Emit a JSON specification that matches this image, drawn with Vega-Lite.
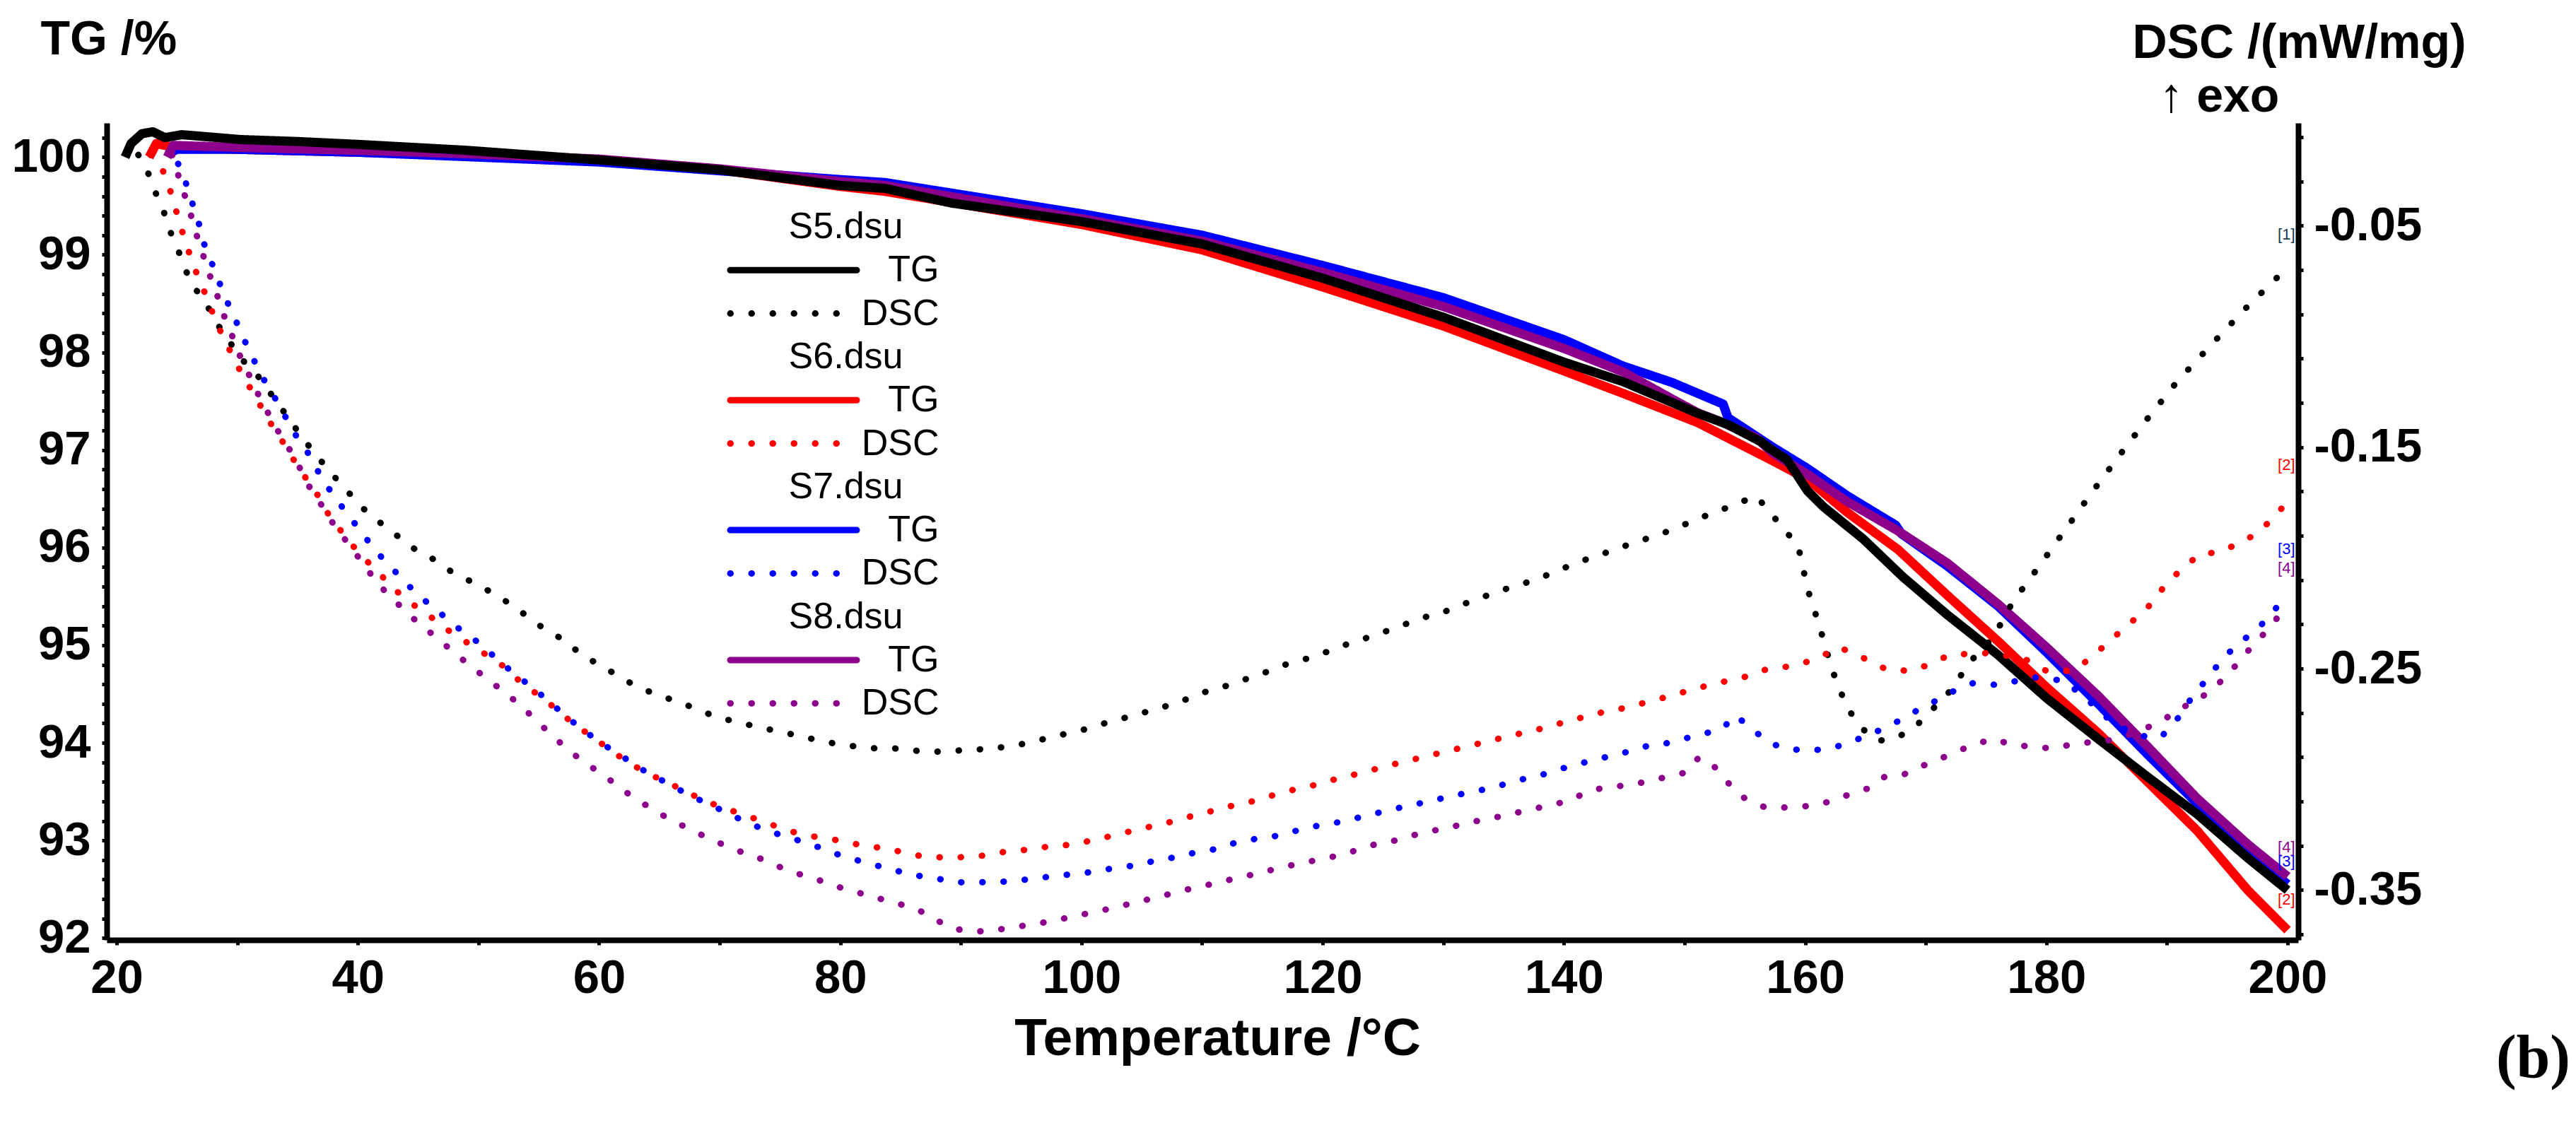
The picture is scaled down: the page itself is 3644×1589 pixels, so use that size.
{
"$schema": "https://vega.github.io/schema/vega-lite/v6.json",
"width": 3100, "height": 1156,
"autosize": {"type": "none"},
"padding": {"left": 151, "top": 174, "right": 393, "bottom": 259},
"background": "white",
"title": {"text": "(b)", "orient": "bottom", "anchor": "end", "frame": "group", "font": "Liberation Serif", "fontWeight": "bold", "fontSize": 86, "color": "black", "dx": 385, "offset": 17, "baseline": "alphabetic"},
"datasets": {
"tg": [
{"T":22.7,"TG":100.0,"s":"S6 TG"},{"T":23.3,"TG":100.14,"s":"S6 TG"},{"T":24,"TG":100.12,"s":"S6 TG"},{"T":25,"TG":100.1,"s":"S6 TG"},{"T":30,"TG":100.08,"s":"S6 TG"},{"T":40,"TG":100.05,"s":"S6 TG"},{"T":50,"TG":100.02,"s":"S6 TG"},{"T":60,"TG":99.97,"s":"S6 TG"},{"T":70,"TG":99.87,"s":"S6 TG"},{"T":80,"TG":99.7,"s":"S6 TG"},{"T":83.7,"TG":99.65,"s":"S6 TG"},{"T":100,"TG":99.31,"s":"S6 TG"},{"T":110,"TG":99.05,"s":"S6 TG"},{"T":120,"TG":98.67,"s":"S6 TG"},{"T":130,"TG":98.27,"s":"S6 TG"},{"T":140,"TG":97.81,"s":"S6 TG"},{"T":144.9,"TG":97.58,"s":"S6 TG"},{"T":151.1,"TG":97.28,"s":"S6 TG"},{"T":157.3,"TG":96.89,"s":"S6 TG"},{"T":160.2,"TG":96.7,"s":"S6 TG"},{"T":163.5,"TG":96.36,"s":"S6 TG"},{"T":167.7,"TG":95.98,"s":"S6 TG"},{"T":171.8,"TG":95.51,"s":"S6 TG"},{"T":176,"TG":95.04,"s":"S6 TG"},{"T":180,"TG":94.57,"s":"S6 TG"},{"T":184.3,"TG":94.1,"s":"S6 TG"},{"T":188.4,"TG":93.6,"s":"S6 TG"},{"T":192.5,"TG":93.1,"s":"S6 TG"},{"T":196.7,"TG":92.49,"s":"S6 TG"},{"T":200,"TG":92.08,"s":"S6 TG"},
{"T":24.2,"TG":100.03,"s":"S7 TG"},{"T":25,"TG":100.08,"s":"S7 TG"},{"T":30,"TG":100.08,"s":"S7 TG"},{"T":40,"TG":100.05,"s":"S7 TG"},{"T":50,"TG":100.0,"s":"S7 TG"},{"T":60,"TG":99.95,"s":"S7 TG"},{"T":70,"TG":99.86,"s":"S7 TG"},{"T":80,"TG":99.77,"s":"S7 TG"},{"T":83.7,"TG":99.74,"s":"S7 TG"},{"T":100,"TG":99.42,"s":"S7 TG"},{"T":110,"TG":99.2,"s":"S7 TG"},{"T":120,"TG":98.89,"s":"S7 TG"},{"T":130,"TG":98.56,"s":"S7 TG"},{"T":140,"TG":98.13,"s":"S7 TG"},{"T":144.9,"TG":97.86,"s":"S7 TG"},{"T":149,"TG":97.69,"s":"S7 TG"},{"T":153.2,"TG":97.47,"s":"S7 TG"},{"T":153.6,"TG":97.33,"s":"S7 TG"},{"T":157.3,"TG":97.03,"s":"S7 TG"},{"T":160.2,"TG":96.81,"s":"S7 TG"},{"T":163.5,"TG":96.53,"s":"S7 TG"},{"T":167.5,"TG":96.23,"s":"S7 TG"},{"T":168,"TG":96.14,"s":"S7 TG"},{"T":171.8,"TG":95.81,"s":"S7 TG"},{"T":176,"TG":95.4,"s":"S7 TG"},{"T":180,"TG":94.93,"s":"S7 TG"},{"T":184.3,"TG":94.4,"s":"S7 TG"},{"T":188.4,"TG":93.88,"s":"S7 TG"},{"T":192.5,"TG":93.38,"s":"S7 TG"},{"T":196.7,"TG":92.88,"s":"S7 TG"},{"T":200,"TG":92.55,"s":"S7 TG"},
{"T":24.2,"TG":100.0,"s":"S8 TG"},{"T":24.7,"TG":100.12,"s":"S8 TG"},{"T":30,"TG":100.1,"s":"S8 TG"},{"T":40,"TG":100.07,"s":"S8 TG"},{"T":50,"TG":100.03,"s":"S8 TG"},{"T":60,"TG":99.98,"s":"S8 TG"},{"T":70,"TG":99.88,"s":"S8 TG"},{"T":80,"TG":99.75,"s":"S8 TG"},{"T":83.7,"TG":99.71,"s":"S8 TG"},{"T":100,"TG":99.37,"s":"S8 TG"},{"T":110,"TG":99.14,"s":"S8 TG"},{"T":120,"TG":98.82,"s":"S8 TG"},{"T":130,"TG":98.47,"s":"S8 TG"},{"T":140,"TG":98.04,"s":"S8 TG"},{"T":144.9,"TG":97.8,"s":"S8 TG"},{"T":149,"TG":97.52,"s":"S8 TG"},{"T":151.1,"TG":97.38,"s":"S8 TG"},{"T":153,"TG":97.29,"s":"S8 TG"},{"T":156,"TG":97.12,"s":"S8 TG"},{"T":157.3,"TG":96.97,"s":"S8 TG"},{"T":160.2,"TG":96.75,"s":"S8 TG"},{"T":163.5,"TG":96.47,"s":"S8 TG"},{"T":167.7,"TG":96.17,"s":"S8 TG"},{"T":171.8,"TG":95.84,"s":"S8 TG"},{"T":176,"TG":95.42,"s":"S8 TG"},{"T":180,"TG":94.98,"s":"S8 TG"},{"T":184.3,"TG":94.48,"s":"S8 TG"},{"T":188.4,"TG":93.96,"s":"S8 TG"},{"T":192.5,"TG":93.43,"s":"S8 TG"},{"T":196.7,"TG":92.96,"s":"S8 TG"},{"T":200,"TG":92.63,"s":"S8 TG"},
{"T":20.7,"TG":100.0,"s":"S5 TG"},{"T":21.2,"TG":100.14,"s":"S5 TG"},{"T":22.1,"TG":100.24,"s":"S5 TG"},{"T":23,"TG":100.26,"s":"S5 TG"},{"T":24,"TG":100.2,"s":"S5 TG"},{"T":25.4,"TG":100.23,"s":"S5 TG"},{"T":30.3,"TG":100.18,"s":"S5 TG"},{"T":35,"TG":100.16,"s":"S5 TG"},{"T":40.1,"TG":100.13,"s":"S5 TG"},{"T":49,"TG":100.07,"s":"S5 TG"},{"T":60.1,"TG":99.97,"s":"S5 TG"},{"T":70,"TG":99.87,"s":"S5 TG"},{"T":80,"TG":99.71,"s":"S5 TG"},{"T":83.7,"TG":99.68,"s":"S5 TG"},{"T":89.2,"TG":99.53,"s":"S5 TG"},{"T":100,"TG":99.34,"s":"S5 TG"},{"T":110,"TG":99.11,"s":"S5 TG"},{"T":120,"TG":98.76,"s":"S5 TG"},{"T":130,"TG":98.36,"s":"S5 TG"},{"T":140,"TG":97.9,"s":"S5 TG"},{"T":144.9,"TG":97.7,"s":"S5 TG"},{"T":151,"TG":97.38,"s":"S5 TG"},{"T":153.6,"TG":97.26,"s":"S5 TG"},{"T":156.4,"TG":97.08,"s":"S5 TG"},{"T":157,"TG":97.02,"s":"S5 TG"},{"T":158.5,"TG":96.9,"s":"S5 TG"},{"T":159.3,"TG":96.75,"s":"S5 TG"},{"T":160.2,"TG":96.58,"s":"S5 TG"},{"T":161.5,"TG":96.42,"s":"S5 TG"},{"T":164.8,"TG":96.09,"s":"S5 TG"},{"T":168.1,"TG":95.7,"s":"S5 TG"},{"T":171.8,"TG":95.31,"s":"S5 TG"},{"T":176,"TG":94.9,"s":"S5 TG"},{"T":180,"TG":94.46,"s":"S5 TG"},{"T":184.3,"TG":94.04,"s":"S5 TG"},{"T":188.4,"TG":93.65,"s":"S5 TG"},{"T":192.5,"TG":93.27,"s":"S5 TG"},{"T":196.7,"TG":92.82,"s":"S5 TG"},{"T":200,"TG":92.49,"s":"S5 TG"}
],
"dsc": [
{"T":21.8,"D":-0.018,"s":"S5 DSC"},{"T":22.6,"D":-0.026,"s":"S5 DSC"},{"T":23.3,"D":-0.036,"s":"S5 DSC"},{"T":23.9,"D":-0.0435,"s":"S5 DSC"},{"T":24.4,"D":-0.052,"s":"S5 DSC"},{"T":25.1,"D":-0.061,"s":"S5 DSC"},{"T":25.8,"D":-0.071,"s":"S5 DSC"},{"T":26.6,"D":-0.079,"s":"S5 DSC"},{"T":27.5,"D":-0.086,"s":"S5 DSC"},{"T":28.3,"D":-0.094,"s":"S5 DSC"},{"T":29.3,"D":-0.102,"s":"S5 DSC"},{"T":30.5,"D":-0.111,"s":"S5 DSC"},{"T":31.6,"D":-0.117,"s":"S5 DSC"},{"T":32.8,"D":-0.126,"s":"S5 DSC"},{"T":34,"D":-0.135,"s":"S5 DSC"},{"T":35.3,"D":-0.145,"s":"S5 DSC"},{"T":36.6,"D":-0.154,"s":"S5 DSC"},{"T":38,"D":-0.163,"s":"S5 DSC"},{"T":39,"D":-0.169,"s":"S5 DSC"},{"T":40.3,"D":-0.177,"s":"S5 DSC"},{"T":41.6,"D":-0.183,"s":"S5 DSC"},{"T":42.8,"D":-0.188,"s":"S5 DSC"},{"T":44.4,"D":-0.195,"s":"S5 DSC"},{"T":46.4,"D":-0.201,"s":"S5 DSC"},{"T":47.7,"D":-0.206,"s":"S5 DSC"},{"T":49.5,"D":-0.211,"s":"S5 DSC"},{"T":50.9,"D":-0.215,"s":"S5 DSC"},{"T":52.7,"D":-0.221,"s":"S5 DSC"},{"T":54.2,"D":-0.227,"s":"S5 DSC"},{"T":55.7,"D":-0.233,"s":"S5 DSC"},{"T":57.1,"D":-0.237,"s":"S5 DSC"},{"T":58.6,"D":-0.244,"s":"S5 DSC"},{"T":60.3,"D":-0.249,"s":"S5 DSC"},{"T":61.8,"D":-0.254,"s":"S5 DSC"},{"T":63.1,"D":-0.258,"s":"S5 DSC"},{"T":64.9,"D":-0.262,"s":"S5 DSC"},{"T":66.6,"D":-0.265,"s":"S5 DSC"},{"T":68,"D":-0.268,"s":"S5 DSC"},{"T":69.8,"D":-0.272,"s":"S5 DSC"},{"T":71.4,"D":-0.274,"s":"S5 DSC"},{"T":72.9,"D":-0.276,"s":"S5 DSC"},{"T":74.6,"D":-0.278,"s":"S5 DSC"},{"T":76.3,"D":-0.28,"s":"S5 DSC"},{"T":77.9,"D":-0.282,"s":"S5 DSC"},{"T":79.7,"D":-0.284,"s":"S5 DSC"},{"T":81.1,"D":-0.285,"s":"S5 DSC"},{"T":82.9,"D":-0.286,"s":"S5 DSC"},{"T":84.5,"D":-0.286,"s":"S5 DSC"},{"T":86,"D":-0.287,"s":"S5 DSC"},{"T":88,"D":-0.2875,"s":"S5 DSC"},{"T":89.5,"D":-0.287,"s":"S5 DSC"},{"T":91.1,"D":-0.2867,"s":"S5 DSC"},{"T":94.3,"D":-0.285,"s":"S5 DSC"},{"T":95.9,"D":-0.283,"s":"S5 DSC"},{"T":97.5,"D":-0.281,"s":"S5 DSC"},{"T":99,"D":-0.279,"s":"S5 DSC"},{"T":100.6,"D":-0.277,"s":"S5 DSC"},{"T":102.3,"D":-0.274,"s":"S5 DSC"},{"T":104.1,"D":-0.2715,"s":"S5 DSC"},{"T":105.7,"D":-0.269,"s":"S5 DSC"},{"T":107.6,"D":-0.266,"s":"S5 DSC"},{"T":109.1,"D":-0.263,"s":"S5 DSC"},{"T":110.5,"D":-0.26,"s":"S5 DSC"},{"T":112.2,"D":-0.2575,"s":"S5 DSC"},{"T":114,"D":-0.254,"s":"S5 DSC"},{"T":115.4,"D":-0.2514,"s":"S5 DSC"},{"T":117,"D":-0.248,"s":"S5 DSC"},{"T":118.6,"D":-0.2456,"s":"S5 DSC"},{"T":120.3,"D":-0.2425,"s":"S5 DSC"},{"T":122,"D":-0.239,"s":"S5 DSC"},{"T":123.7,"D":-0.236,"s":"S5 DSC"},{"T":125.3,"D":-0.233,"s":"S5 DSC"},{"T":126.8,"D":-0.23,"s":"S5 DSC"},{"T":128.3,"D":-0.227,"s":"S5 DSC"},{"T":130,"D":-0.2245,"s":"S5 DSC"},{"T":131.6,"D":-0.221,"s":"S5 DSC"},{"T":133.1,"D":-0.218,"s":"S5 DSC"},{"T":134.6,"D":-0.215,"s":"S5 DSC"},{"T":136.4,"D":-0.212,"s":"S5 DSC"},{"T":137.8,"D":-0.2095,"s":"S5 DSC"},{"T":139.4,"D":-0.206,"s":"S5 DSC"},{"T":141.1,"D":-0.202,"s":"S5 DSC"},{"T":142.8,"D":-0.199,"s":"S5 DSC"},{"T":144.3,"D":-0.196,"s":"S5 DSC"},{"T":145.9,"D":-0.193,"s":"S5 DSC"},{"T":147.6,"D":-0.19,"s":"S5 DSC"},{"T":149.3,"D":-0.1866,"s":"S5 DSC"},{"T":150.8,"D":-0.183,"s":"S5 DSC"},{"T":152.7,"D":-0.179,"s":"S5 DSC"},{"T":154.3,"D":-0.1757,"s":"S5 DSC"},{"T":155.9,"D":-0.172,"s":"S5 DSC"},{"T":156.9,"D":-0.178,"s":"S5 DSC"},{"T":158.3,"D":-0.1876,"s":"S5 DSC"},{"T":159.4,"D":-0.194,"s":"S5 DSC"},{"T":160.2,"D":-0.214,"s":"S5 DSC"},{"T":161.2,"D":-0.231,"s":"S5 DSC"},{"T":162.2,"D":-0.25,"s":"S5 DSC"},{"T":163.5,"D":-0.268,"s":"S5 DSC"},{"T":165,"D":-0.2785,"s":"S5 DSC"},{"T":166,"D":-0.2827,"s":"S5 DSC"},{"T":167.7,"D":-0.281,"s":"S5 DSC"},{"T":169.3,"D":-0.2753,"s":"S5 DSC"},{"T":171.8,"D":-0.2615,"s":"S5 DSC"},{"T":173.9,"D":-0.2456,"s":"S5 DSC"},{"T":175.6,"D":-0.2359,"s":"S5 DSC"},{"T":177.2,"D":-0.22,"s":"S5 DSC"},{"T":179.5,"D":-0.203,"s":"S5 DSC"},{"T":181.6,"D":-0.187,"s":"S5 DSC"},{"T":183.9,"D":-0.1695,"s":"S5 DSC"},{"T":186.1,"D":-0.1534,"s":"S5 DSC"},{"T":188.4,"D":-0.137,"s":"S5 DSC"},{"T":190.9,"D":-0.12,"s":"S5 DSC"},{"T":193.8,"D":-0.103,"s":"S5 DSC"},{"T":196.7,"D":-0.0863,"s":"S5 DSC"},{"T":199.4,"D":-0.072,"s":"S5 DSC"},
{"T":22.8,"D":-0.018,"s":"S6 DSC"},{"T":23.6,"D":-0.022,"s":"S6 DSC"},{"T":24.2,"D":-0.03,"s":"S6 DSC"},{"T":24.7,"D":-0.0385,"s":"S6 DSC"},{"T":25.2,"D":-0.0486,"s":"S6 DSC"},{"T":25.7,"D":-0.057,"s":"S6 DSC"},{"T":26.3,"D":-0.067,"s":"S6 DSC"},{"T":26.9,"D":-0.075,"s":"S6 DSC"},{"T":27.6,"D":-0.084,"s":"S6 DSC"},{"T":28.2,"D":-0.093,"s":"S6 DSC"},{"T":29,"D":-0.102,"s":"S6 DSC"},{"T":29.9,"D":-0.112,"s":"S6 DSC"},{"T":30.6,"D":-0.119,"s":"S6 DSC"},{"T":31.6,"D":-0.128,"s":"S6 DSC"},{"T":32.5,"D":-0.137,"s":"S6 DSC"},{"T":33.6,"D":-0.146,"s":"S6 DSC"},{"T":34.6,"D":-0.155,"s":"S6 DSC"},{"T":35.5,"D":-0.1625,"s":"S6 DSC"},{"T":36.6,"D":-0.171,"s":"S6 DSC"},{"T":37.4,"D":-0.179,"s":"S6 DSC"},{"T":38.9,"D":-0.19,"s":"S6 DSC"},{"T":40.2,"D":-0.1985,"s":"S6 DSC"},{"T":41.6,"D":-0.206,"s":"S6 DSC"},{"T":43,"D":-0.214,"s":"S6 DSC"},{"T":44.2,"D":-0.2196,"s":"S6 DSC"},{"T":45.9,"D":-0.226,"s":"S6 DSC"},{"T":47.3,"D":-0.232,"s":"S6 DSC"},{"T":48.7,"D":-0.237,"s":"S6 DSC"},{"T":50.3,"D":-0.2425,"s":"S6 DSC"},{"T":52,"D":-0.2486,"s":"S6 DSC"},{"T":53.6,"D":-0.2565,"s":"S6 DSC"},{"T":55,"D":-0.262,"s":"S6 DSC"},{"T":56.4,"D":-0.268,"s":"S6 DSC"},{"T":57.9,"D":-0.275,"s":"S6 DSC"},{"T":59.5,"D":-0.281,"s":"S6 DSC"},{"T":61,"D":-0.287,"s":"S6 DSC"},{"T":62.6,"D":-0.293,"s":"S6 DSC"},{"T":64.3,"D":-0.298,"s":"S6 DSC"},{"T":65.9,"D":-0.302,"s":"S6 DSC"},{"T":67.4,"D":-0.306,"s":"S6 DSC"},{"T":68.7,"D":-0.3096,"s":"S6 DSC"},{"T":70.4,"D":-0.313,"s":"S6 DSC"},{"T":72,"D":-0.316,"s":"S6 DSC"},{"T":73.6,"D":-0.319,"s":"S6 DSC"},{"T":75.4,"D":-0.3226,"s":"S6 DSC"},{"T":76.9,"D":-0.325,"s":"S6 DSC"},{"T":78.5,"D":-0.3264,"s":"S6 DSC"},{"T":80.4,"D":-0.328,"s":"S6 DSC"},{"T":81.9,"D":-0.33,"s":"S6 DSC"},{"T":83.6,"D":-0.331,"s":"S6 DSC"},{"T":85.3,"D":-0.333,"s":"S6 DSC"},{"T":87,"D":-0.335,"s":"S6 DSC"},{"T":88.5,"D":-0.3352,"s":"S6 DSC"},{"T":89.8,"D":-0.3352,"s":"S6 DSC"},{"T":91.7,"D":-0.3345,"s":"S6 DSC"},{"T":93.2,"D":-0.333,"s":"S6 DSC"},{"T":95.1,"D":-0.332,"s":"S6 DSC"},{"T":96.7,"D":-0.3307,"s":"S6 DSC"},{"T":98.3,"D":-0.33,"s":"S6 DSC"},{"T":99.9,"D":-0.3287,"s":"S6 DSC"},{"T":101.8,"D":-0.3264,"s":"S6 DSC"},{"T":103.4,"D":-0.3243,"s":"S6 DSC"},{"T":104.9,"D":-0.3223,"s":"S6 DSC"},{"T":106.4,"D":-0.3205,"s":"S6 DSC"},{"T":108.3,"D":-0.318,"s":"S6 DSC"},{"T":109.8,"D":-0.3154,"s":"S6 DSC"},{"T":111.4,"D":-0.3137,"s":"S6 DSC"},{"T":113,"D":-0.311,"s":"S6 DSC"},{"T":114.3,"D":-0.3098,"s":"S6 DSC"},{"T":115.8,"D":-0.3073,"s":"S6 DSC"},{"T":117.7,"D":-0.3045,"s":"S6 DSC"},{"T":119.2,"D":-0.3027,"s":"S6 DSC"},{"T":121,"D":-0.3,"s":"S6 DSC"},{"T":122.8,"D":-0.2976,"s":"S6 DSC"},{"T":124.2,"D":-0.2956,"s":"S6 DSC"},{"T":125.8,"D":-0.2933,"s":"S6 DSC"},{"T":127.3,"D":-0.2913,"s":"S6 DSC"},{"T":128.8,"D":-0.2893,"s":"S6 DSC"},{"T":130.5,"D":-0.287,"s":"S6 DSC"},{"T":132.2,"D":-0.2849,"s":"S6 DSC"},{"T":133.9,"D":-0.2824,"s":"S6 DSC"},{"T":135.5,"D":-0.2806,"s":"S6 DSC"},{"T":137.2,"D":-0.278,"s":"S6 DSC"},{"T":138.7,"D":-0.2766,"s":"S6 DSC"},{"T":140.3,"D":-0.2735,"s":"S6 DSC"},{"T":142,"D":-0.2715,"s":"S6 DSC"},{"T":143.5,"D":-0.2692,"s":"S6 DSC"},{"T":144.8,"D":-0.268,"s":"S6 DSC"},{"T":146.7,"D":-0.2654,"s":"S6 DSC"},{"T":148.5,"D":-0.2628,"s":"S6 DSC"},{"T":150.1,"D":-0.2603,"s":"S6 DSC"},{"T":151.5,"D":-0.2582,"s":"S6 DSC"},{"T":153.4,"D":-0.2557,"s":"S6 DSC"},{"T":154.9,"D":-0.2539,"s":"S6 DSC"},{"T":156.6,"D":-0.2506,"s":"S6 DSC"},{"T":158.1,"D":-0.2495,"s":"S6 DSC"},{"T":159.8,"D":-0.2476,"s":"S6 DSC"},{"T":161.4,"D":-0.2444,"s":"S6 DSC"},{"T":162.7,"D":-0.2402,"s":"S6 DSC"},{"T":164.1,"D":-0.2432,"s":"S6 DSC"},{"T":166.8,"D":-0.2505,"s":"S6 DSC"},{"T":168.7,"D":-0.251,"s":"S6 DSC"},{"T":170.4,"D":-0.248,"s":"S6 DSC"},{"T":172,"D":-0.2437,"s":"S6 DSC"},{"T":175,"D":-0.243,"s":"S6 DSC"},{"T":178,"D":-0.245,"s":"S6 DSC"},{"T":180,"D":-0.251,"s":"S6 DSC"},{"T":182,"D":-0.251,"s":"S6 DSC"},{"T":183,"D":-0.248,"s":"S6 DSC"},{"T":184.6,"D":-0.2407,"s":"S6 DSC"},{"T":186.1,"D":-0.2334,"s":"S6 DSC"},{"T":187.4,"D":-0.2273,"s":"S6 DSC"},{"T":188.6,"D":-0.2212,"s":"S6 DSC"},{"T":189.9,"D":-0.212,"s":"S6 DSC"},{"T":191.3,"D":-0.2046,"s":"S6 DSC"},{"T":192.8,"D":-0.198,"s":"S6 DSC"},{"T":194.2,"D":-0.1976,"s":"S6 DSC"},{"T":196.3,"D":-0.1927,"s":"S6 DSC"},{"T":197.6,"D":-0.1883,"s":"S6 DSC"},{"T":199,"D":-0.181,"s":"S6 DSC"},{"T":200.1,"D":-0.1737,"s":"S6 DSC"},
{"T":25.1,"D":-0.022,"s":"S7 DSC"},{"T":25.7,"D":-0.03,"s":"S7 DSC"},{"T":26.2,"D":-0.0385,"s":"S7 DSC"},{"T":26.8,"D":-0.0486,"s":"S7 DSC"},{"T":27.2,"D":-0.0575,"s":"S7 DSC"},{"T":27.8,"D":-0.0656,"s":"S7 DSC"},{"T":28.4,"D":-0.074,"s":"S7 DSC"},{"T":29,"D":-0.0824,"s":"S7 DSC"},{"T":29.7,"D":-0.0905,"s":"S7 DSC"},{"T":30.4,"D":-0.0994,"s":"S7 DSC"},{"T":31.1,"D":-0.1076,"s":"S7 DSC"},{"T":32.1,"D":-0.1185,"s":"S7 DSC"},{"T":32.9,"D":-0.1256,"s":"S7 DSC"},{"T":33.8,"D":-0.1343,"s":"S7 DSC"},{"T":34.7,"D":-0.1434,"s":"S7 DSC"},{"T":35.7,"D":-0.151,"s":"S7 DSC"},{"T":36.6,"D":-0.16,"s":"S7 DSC"},{"T":37.5,"D":-0.168,"s":"S7 DSC"},{"T":38.7,"D":-0.177,"s":"S7 DSC"},{"T":40.1,"D":-0.187,"s":"S7 DSC"},{"T":41.5,"D":-0.197,"s":"S7 DSC"},{"T":42.9,"D":-0.205,"s":"S7 DSC"},{"T":44.1,"D":-0.212,"s":"S7 DSC"},{"T":45.5,"D":-0.219,"s":"S7 DSC"},{"T":47,"D":-0.2257,"s":"S7 DSC"},{"T":48.4,"D":-0.232,"s":"S7 DSC"},{"T":49.7,"D":-0.237,"s":"S7 DSC"},{"T":51.2,"D":-0.244,"s":"S7 DSC"},{"T":52.9,"D":-0.252,"s":"S7 DSC"},{"T":54.6,"D":-0.259,"s":"S7 DSC"},{"T":56.3,"D":-0.267,"s":"S7 DSC"},{"T":57.7,"D":-0.2735,"s":"S7 DSC"},{"T":58.9,"D":-0.2786,"s":"S7 DSC"},{"T":60.4,"D":-0.2844,"s":"S7 DSC"},{"T":62.3,"D":-0.291,"s":"S7 DSC"},{"T":64,"D":-0.297,"s":"S7 DSC"},{"T":65.6,"D":-0.3015,"s":"S7 DSC"},{"T":67.1,"D":-0.306,"s":"S7 DSC"},{"T":68.6,"D":-0.31,"s":"S7 DSC"},{"T":70.2,"D":-0.314,"s":"S7 DSC"},{"T":71.7,"D":-0.318,"s":"S7 DSC"},{"T":73.4,"D":-0.322,"s":"S7 DSC"},{"T":75,"D":-0.325,"s":"S7 DSC"},{"T":76.8,"D":-0.328,"s":"S7 DSC"},{"T":78.2,"D":-0.3306,"s":"S7 DSC"},{"T":79.7,"D":-0.3337,"s":"S7 DSC"},{"T":81.4,"D":-0.3365,"s":"S7 DSC"},{"T":83.1,"D":-0.339,"s":"S7 DSC"},{"T":84.7,"D":-0.3413,"s":"S7 DSC"},{"T":86.3,"D":-0.3434,"s":"S7 DSC"},{"T":87.9,"D":-0.3446,"s":"S7 DSC"},{"T":89.4,"D":-0.3465,"s":"S7 DSC"},{"T":90.9,"D":-0.3464,"s":"S7 DSC"},{"T":92.9,"D":-0.3464,"s":"S7 DSC"},{"T":94.3,"D":-0.3459,"s":"S7 DSC"},{"T":96.4,"D":-0.3446,"s":"S7 DSC"},{"T":98,"D":-0.3434,"s":"S7 DSC"},{"T":99.9,"D":-0.3426,"s":"S7 DSC"},{"T":101.3,"D":-0.3413,"s":"S7 DSC"},{"T":102.8,"D":-0.34,"s":"S7 DSC"},{"T":104.2,"D":-0.339,"s":"S7 DSC"},{"T":105.9,"D":-0.337,"s":"S7 DSC"},{"T":107.7,"D":-0.3352,"s":"S7 DSC"},{"T":109.3,"D":-0.3332,"s":"S7 DSC"},{"T":111.2,"D":-0.3314,"s":"S7 DSC"},{"T":112.6,"D":-0.3289,"s":"S7 DSC"},{"T":114.4,"D":-0.3269,"s":"S7 DSC"},{"T":115.7,"D":-0.3261,"s":"S7 DSC"},{"T":117.5,"D":-0.3236,"s":"S7 DSC"},{"T":119.2,"D":-0.3213,"s":"S7 DSC"},{"T":120.9,"D":-0.3198,"s":"S7 DSC"},{"T":122.4,"D":-0.318,"s":"S7 DSC"},{"T":124,"D":-0.3159,"s":"S7 DSC"},{"T":125.6,"D":-0.3137,"s":"S7 DSC"},{"T":127,"D":-0.3121,"s":"S7 DSC"},{"T":128.9,"D":-0.3098,"s":"S7 DSC"},{"T":130.5,"D":-0.3078,"s":"S7 DSC"},{"T":132.2,"D":-0.3058,"s":"S7 DSC"},{"T":133.9,"D":-0.304,"s":"S7 DSC"},{"T":135.5,"D":-0.3015,"s":"S7 DSC"},{"T":137.3,"D":-0.2989,"s":"S7 DSC"},{"T":138.8,"D":-0.2971,"s":"S7 DSC"},{"T":140.3,"D":-0.2943,"s":"S7 DSC"},{"T":142.1,"D":-0.2918,"s":"S7 DSC"},{"T":143.8,"D":-0.2895,"s":"S7 DSC"},{"T":145.7,"D":-0.287,"s":"S7 DSC"},{"T":147.2,"D":-0.2844,"s":"S7 DSC"},{"T":148.5,"D":-0.2837,"s":"S7 DSC"},{"T":150,"D":-0.2816,"s":"S7 DSC"},{"T":151.8,"D":-0.2791,"s":"S7 DSC"},{"T":153.1,"D":-0.2773,"s":"S7 DSC"},{"T":154.2,"D":-0.271,"s":"S7 DSC"},{"T":155.5,"D":-0.2768,"s":"S7 DSC"},{"T":157,"D":-0.2834,"s":"S7 DSC"},{"T":158.5,"D":-0.2863,"s":"S7 DSC"},{"T":160.6,"D":-0.287,"s":"S7 DSC"},{"T":162.5,"D":-0.2854,"s":"S7 DSC"},{"T":163.9,"D":-0.2829,"s":"S7 DSC"},{"T":166.4,"D":-0.2773,"s":"S7 DSC"},{"T":167.9,"D":-0.2732,"s":"S7 DSC"},{"T":169.3,"D":-0.2688,"s":"S7 DSC"},{"T":170.8,"D":-0.2646,"s":"S7 DSC"},{"T":172.7,"D":-0.259,"s":"S7 DSC"},{"T":173.9,"D":-0.2566,"s":"S7 DSC"},{"T":175.8,"D":-0.2573,"s":"S7 DSC"},{"T":179.1,"D":-0.254,"s":"S7 DSC"},{"T":181.4,"D":-0.2554,"s":"S7 DSC"},{"T":183,"D":-0.262,"s":"S7 DSC"},{"T":185,"D":-0.272,"s":"S7 DSC"},{"T":187,"D":-0.279,"s":"S7 DSC"},{"T":188.5,"D":-0.281,"s":"S7 DSC"},{"T":189.5,"D":-0.281,"s":"S7 DSC"},{"T":190.9,"D":-0.2724,"s":"S7 DSC"},{"T":192.1,"D":-0.2627,"s":"S7 DSC"},{"T":193.4,"D":-0.2541,"s":"S7 DSC"},{"T":194.6,"D":-0.2456,"s":"S7 DSC"},{"T":195.9,"D":-0.2388,"s":"S7 DSC"},{"T":197.3,"D":-0.233,"s":"S7 DSC"},{"T":198.6,"D":-0.226,"s":"S7 DSC"},{"T":199.9,"D":-0.2163,"s":"S7 DSC"},
{"T":24.6,"D":-0.018,"s":"S8 DSC"},{"T":25.1,"D":-0.027,"s":"S8 DSC"},{"T":26.1,"D":-0.044,"s":"S8 DSC"},{"T":26.6,"D":-0.0537,"s":"S8 DSC"},{"T":27.1,"D":-0.062,"s":"S8 DSC"},{"T":27.6,"D":-0.0707,"s":"S8 DSC"},{"T":28.2,"D":-0.079,"s":"S8 DSC"},{"T":28.8,"D":-0.0893,"s":"S8 DSC"},{"T":29.4,"D":-0.0969,"s":"S8 DSC"},{"T":30,"D":-0.1063,"s":"S8 DSC"},{"T":30.7,"D":-0.1139,"s":"S8 DSC"},{"T":31.5,"D":-0.1236,"s":"S8 DSC"},{"T":32.4,"D":-0.133,"s":"S8 DSC"},{"T":33.3,"D":-0.142,"s":"S8 DSC"},{"T":34.2,"D":-0.1497,"s":"S8 DSC"},{"T":35.1,"D":-0.1584,"s":"S8 DSC"},{"T":36,"D":-0.168,"s":"S8 DSC"},{"T":37.1,"D":-0.177,"s":"S8 DSC"},{"T":38.1,"D":-0.1858,"s":"S8 DSC"},{"T":39.2,"D":-0.1935,"s":"S8 DSC"},{"T":40.5,"D":-0.203,"s":"S8 DSC"},{"T":41.7,"D":-0.212,"s":"S8 DSC"},{"T":43,"D":-0.219,"s":"S8 DSC"},{"T":44.3,"D":-0.226,"s":"S8 DSC"},{"T":45.7,"D":-0.2323,"s":"S8 DSC"},{"T":47.5,"D":-0.2405,"s":"S8 DSC"},{"T":49,"D":-0.2473,"s":"S8 DSC"},{"T":50.5,"D":-0.2537,"s":"S8 DSC"},{"T":52,"D":-0.26,"s":"S8 DSC"},{"T":53.5,"D":-0.2666,"s":"S8 DSC"},{"T":54.8,"D":-0.2735,"s":"S8 DSC"},{"T":56.2,"D":-0.2806,"s":"S8 DSC"},{"T":57.6,"D":-0.2875,"s":"S8 DSC"},{"T":59.2,"D":-0.2938,"s":"S8 DSC"},{"T":60.6,"D":-0.299,"s":"S8 DSC"},{"T":62.1,"D":-0.3053,"s":"S8 DSC"},{"T":63.7,"D":-0.311,"s":"S8 DSC"},{"T":65.2,"D":-0.316,"s":"S8 DSC"},{"T":66.6,"D":-0.32,"s":"S8 DSC"},{"T":68.4,"D":-0.3248,"s":"S8 DSC"},{"T":70.1,"D":-0.329,"s":"S8 DSC"},{"T":71.9,"D":-0.333,"s":"S8 DSC"},{"T":73.4,"D":-0.3358,"s":"S8 DSC"},{"T":75,"D":-0.3396,"s":"S8 DSC"},{"T":76.5,"D":-0.3426,"s":"S8 DSC"},{"T":78.2,"D":-0.3454,"s":"S8 DSC"},{"T":79.8,"D":-0.3485,"s":"S8 DSC"},{"T":81.4,"D":-0.351,"s":"S8 DSC"},{"T":83.1,"D":-0.3536,"s":"S8 DSC"},{"T":84.8,"D":-0.3561,"s":"S8 DSC"},{"T":86.4,"D":-0.3587,"s":"S8 DSC"},{"T":88,"D":-0.3637,"s":"S8 DSC"},{"T":89.5,"D":-0.3675,"s":"S8 DSC"},{"T":91.1,"D":-0.3688,"s":"S8 DSC"},{"T":92.8,"D":-0.3681,"s":"S8 DSC"},{"T":94.9,"D":-0.3663,"s":"S8 DSC"},{"T":96.5,"D":-0.365,"s":"S8 DSC"},{"T":98.2,"D":-0.3632,"s":"S8 DSC"},{"T":99.9,"D":-0.3612,"s":"S8 DSC"},{"T":101.5,"D":-0.3594,"s":"S8 DSC"},{"T":103.2,"D":-0.3573,"s":"S8 DSC"},{"T":104.6,"D":-0.3553,"s":"S8 DSC"},{"T":106.1,"D":-0.3535,"s":"S8 DSC"},{"T":107.8,"D":-0.351,"s":"S8 DSC"},{"T":109.7,"D":-0.3485,"s":"S8 DSC"},{"T":111.3,"D":-0.3467,"s":"S8 DSC"},{"T":112.8,"D":-0.3446,"s":"S8 DSC"},{"T":114.5,"D":-0.3426,"s":"S8 DSC"},{"T":116.2,"D":-0.3403,"s":"S8 DSC"},{"T":117.8,"D":-0.3383,"s":"S8 DSC"},{"T":119.6,"D":-0.3363,"s":"S8 DSC"},{"T":121.2,"D":-0.3345,"s":"S8 DSC"},{"T":122.8,"D":-0.332,"s":"S8 DSC"},{"T":124.3,"D":-0.3294,"s":"S8 DSC"},{"T":126,"D":-0.3276,"s":"S8 DSC"},{"T":127.6,"D":-0.3251,"s":"S8 DSC"},{"T":129.3,"D":-0.323,"s":"S8 DSC"},{"T":130.8,"D":-0.3213,"s":"S8 DSC"},{"T":132.4,"D":-0.3192,"s":"S8 DSC"},{"T":134.3,"D":-0.3172,"s":"S8 DSC"},{"T":135.8,"D":-0.3154,"s":"S8 DSC"},{"T":137.4,"D":-0.3134,"s":"S8 DSC"},{"T":138.9,"D":-0.3116,"s":"S8 DSC"},{"T":140.5,"D":-0.3096,"s":"S8 DSC"},{"T":142,"D":-0.3053,"s":"S8 DSC"},{"T":143.6,"D":-0.3035,"s":"S8 DSC"},{"T":145.2,"D":-0.3027,"s":"S8 DSC"},{"T":146.9,"D":-0.301,"s":"S8 DSC"},{"T":148.5,"D":-0.2989,"s":"S8 DSC"},{"T":150.1,"D":-0.2969,"s":"S8 DSC"},{"T":151.2,"D":-0.29,"s":"S8 DSC"},{"T":152.4,"D":-0.2938,"s":"S8 DSC"},{"T":153.6,"D":-0.3015,"s":"S8 DSC"},{"T":155,"D":-0.3086,"s":"S8 DSC"},{"T":156.7,"D":-0.3127,"s":"S8 DSC"},{"T":158.5,"D":-0.3127,"s":"S8 DSC"},{"T":160.3,"D":-0.312,"s":"S8 DSC"},{"T":161.9,"D":-0.3102,"s":"S8 DSC"},{"T":163.4,"D":-0.3073,"s":"S8 DSC"},{"T":165.2,"D":-0.3041,"s":"S8 DSC"},{"T":166.6,"D":-0.2988,"s":"S8 DSC"},{"T":168.1,"D":-0.298,"s":"S8 DSC"},{"T":169.5,"D":-0.2944,"s":"S8 DSC"},{"T":171.2,"D":-0.2907,"s":"S8 DSC"},{"T":172.7,"D":-0.2871,"s":"S8 DSC"},{"T":174.1,"D":-0.2841,"s":"S8 DSC"},{"T":175.6,"D":-0.2817,"s":"S8 DSC"},{"T":177,"D":-0.2841,"s":"S8 DSC"},{"T":178.5,"D":-0.2851,"s":"S8 DSC"},{"T":180.2,"D":-0.2859,"s":"S8 DSC"},{"T":181.8,"D":-0.2846,"s":"S8 DSC"},{"T":183.9,"D":-0.283,"s":"S8 DSC"},{"T":185.5,"D":-0.2822,"s":"S8 DSC"},{"T":186.8,"D":-0.28,"s":"S8 DSC"},{"T":188.3,"D":-0.2768,"s":"S8 DSC"},{"T":189.9,"D":-0.2724,"s":"S8 DSC"},{"T":191.3,"D":-0.2675,"s":"S8 DSC"},{"T":192.6,"D":-0.264,"s":"S8 DSC"},{"T":194.1,"D":-0.2578,"s":"S8 DSC"},{"T":195.8,"D":-0.248,"s":"S8 DSC"},{"T":197.1,"D":-0.2395,"s":"S8 DSC"},{"T":198.5,"D":-0.2317,"s":"S8 DSC"},{"T":199.6,"D":-0.2237,"s":"S8 DSC"}
],
"mk": [
{"T":199.9,"D":-0.058,"m":"[1]","g":"S5"},
{"T":199.9,"D":-0.162,"m":"[2]","g":"S6"},
{"T":199.9,"D":-0.2,"m":"[3]","g":"S7"},
{"T":199.9,"D":-0.2085,"m":"[4]","g":"S8"},
{"T":199.9,"D":-0.3345,"m":"[4]","g":"S8"},
{"T":199.9,"D":-0.341,"m":"[3]","g":"S7"},
{"T":199.9,"D":-0.358,"m":"[2]","g":"S6"}
]
},
"encoding": {
"x": {"field": "T", "type": "quantitative",
 "scale": {"domain": [19.18, 200.88], "nice": false, "zero": false},
 "axis": {"values": [20,30,40,50,60,70,80,90,100,110,120,130,140,150,160,170,180,190,200],
  "labelExpr": "datum.value % 20 == 0 ? datum.label : ''",
  "title": "Temperature /°C", "titleFontSize": 75, "titleX": 1571, "titleY": 162, "titleAlign": "center", "titleBaseline": "alphabetic",
  "labelPadding": 14, "labelFlush": false, "labelOverlap": false}}
},
"layer": [
{
 "data": {"name": "tg"},
 "mark": {"type": "line", "strokeWidth": 13, "strokeJoin": "round"},
 "encoding": {
  "y": {"field": "TG", "type": "quantitative",
   "scale": {"domain": [91.98, 100.35], "nice": false, "zero": false},
   "axis": {"orient": "left",
    "values": [92,92.2,92.4,92.6,92.8,93,93.2,93.4,93.6,93.8,94,94.2,94.4,94.6,94.8,95,95.2,95.4,95.6,95.8,96,96.2,96.4,96.6,96.8,97,97.2,97.4,97.6,97.8,98,98.2,98.4,98.6,98.8,99,99.2,99.4,99.6,99.8,100,100.2],
    "labelExpr": "datum.value % 1 == 0 ? format(datum.value, 'd') : ''",
    "labelPadding": 16, "labelOverlap": false, "labelFlush": false,
    "title": "TG /%", "titleAngle": 0, "titleAlign": "left", "titleBaseline": "alphabetic", "titleX": -94, "titleY": -98, "titleFontSize": 68}},
  "color": {"field": "s", "type": "nominal",
   "scale": {"domain": ["S5.dsu","S5 TG","S5 DSC","S6.dsu","S6 TG","S6 DSC","S7.dsu","S7 TG","S7 DSC","S8.dsu","S8 TG","S8 DSC"],
    "range": ["transparent","#000000","#000000","transparent","#ff0000","#ff0000","transparent","#0000ff","#0000ff","transparent","#8c008c","#8c008c"]},
   "legend": {"orient": "none", "legendX": 877.5, "legendY": 120, "title": null, "padding": 0, "rowPadding": 8.3,
    "symbolType": "M-4,0H4", "symbolSize": 2003, "symbolStrokeWidth": 9,
    "labelFont": "Liberation Sans", "labelFontSize": 52, "labelFontWeight": "normal", "labelColor": "black",
    "labelAlign": "right", "labelOffset": 10, "labelLimit": 600,
    "labelExpr": "indexof(datum.label, 'dsu') >= 0 ? datum.label : (indexof(datum.label, 'TG') >= 0 ? 'TG' : 'DSC')",
    "encode": {
     "symbols": {
      "enter": {"strokeCap": {"value": "round"}},
      "update": {"x": {"value": 94}, "strokeCap": {"value": "round"}}},
     "labels": {"update": {"x": {"value": 300}, "dx": {"signal": "indexof(datum.value, 'dsu') >= 0 ? -51 : 0"}}}
    }}},
  "strokeDash": {"field": "s", "type": "nominal",
   "scale": {"domain": ["S5.dsu","S5 TG","S5 DSC","S6.dsu","S6 TG","S6 DSC","S7.dsu","S7 TG","S7 DSC","S8.dsu","S8 TG","S8 DSC"],
    "range": [[1,0],[1,0],[0.5,29.5],[1,0],[1,0],[0.5,29.5],[1,0],[1,0],[0.5,29.5],[1,0],[1,0],[0.5,29.5]]},
   "legend": null}
 }
},
{
 "layer": [
 {
  "data": {"name": "dsc"},
  "mark": {"type": "line", "strokeWidth": 9, "strokeCap": "round", "strokeJoin": "round"},
  "encoding": {
   "y": {"field": "D", "type": "quantitative",
    "scale": {"domain": [-0.3725, -0.0036], "nice": false, "zero": false},
    "axis": {"orient": "right",
     "values": [-0.37,-0.36,-0.35,-0.34,-0.33,-0.32,-0.31,-0.3,-0.29,-0.28,-0.27,-0.26,-0.25,-0.24,-0.23,-0.22,-0.21,-0.2,-0.19,-0.18,-0.17,-0.16,-0.15,-0.14,-0.13,-0.12,-0.11,-0.1,-0.09,-0.08,-0.07,-0.06,-0.05,-0.04,-0.03,-0.02,-0.01],
     "labelExpr": "abs(datum.value * 20 - round(datum.value * 20)) < 0.001 ? replace(format(datum.value, '.2f'), '\u2212', '-') : ''",
     "labelPadding": 15, "labelOverlap": false, "labelFlush": false,
     "title": ["DSC /(mW/mg)", "\u200b\u00a0\u00a0↑ exo"], "titleAngle": 0, "titleAlign": "left", "titleBaseline": "alphabetic", "titleX": -235, "titleY": -93, "titleFontSize": 68, "titleLineHeight": 76}},
   "color": {"field": "s", "type": "nominal",
    "scale": {"domain": ["S5.dsu","S5 TG","S5 DSC","S6.dsu","S6 TG","S6 DSC","S7.dsu","S7 TG","S7 DSC","S8.dsu","S8 TG","S8 DSC"],
     "range": ["transparent","#000000","#000000","transparent","#ff0000","#ff0000","transparent","#0000ff","#0000ff","transparent","#8c008c","#8c008c"]}},
   "strokeDash": {"field": "s", "type": "nominal",
    "scale": {"domain": ["S5.dsu","S5 TG","S5 DSC","S6.dsu","S6 TG","S6 DSC","S7.dsu","S7 TG","S7 DSC","S8.dsu","S8 TG","S8 DSC"],
     "range": [[1,0],[1,0],[0.5,29.5],[1,0],[1,0],[0.5,29.5],[1,0],[1,0],[0.5,29.5],[1,0],[1,0],[0.5,29.5]]},
    "legend": null}
  }
 },
 {
  "data": {"name": "mk"},
  "mark": {"type": "text", "font": "Liberation Sans", "fontSize": 22, "baseline": "bottom", "align": "center"},
  "encoding": {
   "y": {"field": "D", "type": "quantitative"},
   "text": {"field": "m"},
   "color": {"condition": [
     {"test": "datum.g == 'S6'", "value": "#ff0000"},
     {"test": "datum.g == 'S7'", "value": "#0000ff"},
     {"test": "datum.g == 'S8'", "value": "#8c008c"}],
    "value": "#203a50"}
  }
 }
 ]
}
],
"resolve": {"scale": {"y": "independent"}},
"config": {
 "view": {"stroke": null},
 "axis": {"grid": false, "domainColor": "black", "domainWidth": 8, "tickColor": "black", "tickWidth": 5, "tickSize": 7,
  "labelColor": "black", "titleColor": "black", "labelFont": "Liberation Sans", "labelFontWeight": "bold", "labelFontSize": 67,
  "titleFont": "Liberation Sans", "titleFontWeight": "bold"}
}
}
